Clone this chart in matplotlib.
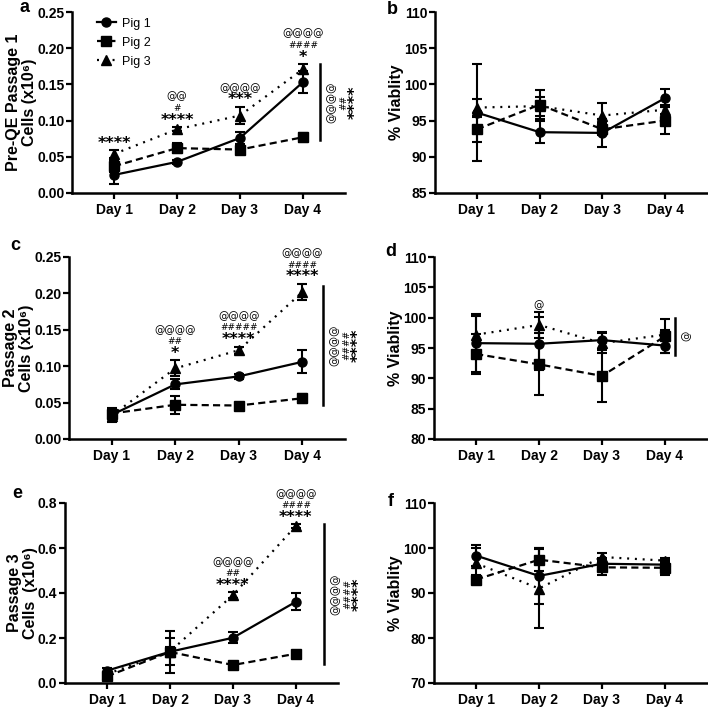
import numpy as np
import matplotlib.pyplot as plt

plt.rcParams['font.family'] = ['Liberation Sans', 'DejaVu Sans']

days = ["Day 1", "Day 2", "Day 3", "Day 4"]
pigs = ["Pig 1", "Pig 2", "Pig 3"]

# cell counts (x10^6), rows = Pig 1..3
cells_p1 = [[0.025, 0.043, 0.076, 0.153],
            [0.037, 0.062, 0.060, 0.077],
            [0.054, 0.088, 0.107, 0.171]]
cells_p1_err = [[0.0125, 0.003, 0.008, 0.015],
                [0.008, 0.007, 0.005, 0.006],
                [0.005, 0.003, 0.012, 0.007]]
cells_p2 = [[0.033, 0.075, 0.086, 0.106],
            [0.035, 0.047, 0.046, 0.056],
            [0.032, 0.097, 0.122, 0.202]]
cells_p2_err = [[0.010, 0.007, 0.003, 0.016],
                [0.005, 0.012, 0.002, 0.006],
                [0.004, 0.011, 0.005, 0.011]]
cells_p3 = [[0.055, 0.139, 0.201, 0.361],
            [0.030, 0.138, 0.080, 0.130],
            [0.040, 0.140, 0.391, 0.698]]
cells_p3_err = [[0.010, 0.093, 0.024, 0.038],
                [0.010, 0.060, 0.008, 0.006],
                [0.008, 0.020, 0.012, 0.008]]

# % viability
viab_p1 = [[96.1, 93.4, 93.3, 98.1],
           [93.8, 97.2, 93.8, 95.0],
           [96.8, 97.0, 95.7, 96.5]]
viab_p1_err = [[6.7, 1.5, 1.9, 1.2],
               [1.7, 2.0, 0.8, 1.9],
               [1.2, 1.3, 1.8, 0.6]]
viab_p2 = [[95.8, 95.7, 96.3, 95.4],
           [94.0, 92.3, 90.4, 96.9],
           [97.2, 98.8, 95.8, 97.2]]
viab_p2_err = [[4.8, 4.4, 1.4, 1.2],
               [3.3, 5.1, 4.3, 2.8],
               [3.0, 2.1, 1.6, 0.8]]
viab_p3 = [[98.3, 93.8, 96.5, 96.3],
           [93.0, 97.4, 95.7, 95.6],
           [96.6, 91.0, 98.0, 97.2]]
viab_p3_err = [[2.3, 6.2, 1.2, 1.0],
               [1.0, 2.5, 1.6, 1.5],
               [3.3, 8.8, 1.0, 0.5]]

# significance marks above each day (top line first)
notes_a = {1: ["****"], 2: ["@@", "#", "****"], 3: ["@@@@", "***"], 4: ["@@@@", "####", "*"]}
notes_c = {2: ["@@@@", "##", "*"], 3: ["@@@@", "#####", "****"], 4: ["@@@@", "####", "****"]}
notes_d = {2: ["@"]}
notes_e = {3: ["@@@@", "##", "****"], 4: ["@@@@", "####", "****"]}

# bracket at the right side: (low, high) and its marks
side_a = ((0.073, 0.178), ["@@@@", "##", "****"])
side_c = ((0.047, 0.210), ["@@@@", "####", "****"])
side_d = ((93.9, 100.0), ["@"])
side_e = ((0.084, 0.707), ["@@@@", "####", "****"])

markers = ["o", "s", "^"]
styles = ["-", (0, (3.2, 1.9)), (0, (0.9, 2.6))]

W, H = 708, 707


def rect(left, right, top, bottom):
    return [left / W, 1 - bottom / H, (right - left) / W, (bottom - top) / H]


def mark_font(s):
    if "*" in s:
        return dict(fontsize=11.5, family="DejaVu Sans", fontweight="bold")
    if "#" in s:
        return dict(fontsize=6.5, family="DejaVu Sans")
    return dict(fontsize=7.5, family="DejaVu Sans")


def draw_panel(ax, vals, errs, ylim, yticks, fmt, ylabel, notes=None, side=None, side_x=None, legend=False):
    x = np.arange(1, len(days) + 1)
    for i in range(len(pigs)):
        v = np.array(vals[i])
        e = np.array(errs[i])
        ax.errorbar(x, v, yerr=e, fmt="none", ecolor="k", elinewidth=1.5,
                    capsize=3.5, capthick=1.5, zorder=2 + i)
        ax.plot(x, v, color="k", linestyle=styles[i], linewidth=1.6, marker=markers[i],
                markersize=6.5 if i < 2 else 7, label=pigs[i], zorder=3 + i)

    ax.set_xlim(0.33, 4.67)
    ax.set_ylim(*ylim)
    ax.set_xticks(x)
    ax.set_xticklabels(days, fontsize=10, fontweight="bold")
    ax.set_yticks(yticks)
    ax.set_yticklabels([fmt % t for t in yticks], fontsize=10, fontweight="bold")
    ax.set_ylabel(ylabel, fontsize=11.5, fontweight="bold", labelpad=0, linespacing=1.1)
    for s in ["top", "right"]:
        ax.spines[s].set_visible(False)
    for s in ["left", "bottom"]:
        ax.spines[s].set_linewidth(1.8)
    ax.tick_params(width=1.6, length=4)
    ax.tick_params(axis="y", pad=1.5)
    ax.tick_params(axis="x", pad=3)

    if notes:
        tops = np.max(np.array(vals) + np.array(errs), axis=0)
        for day, lines in notes.items():
            for k, txt in enumerate(reversed(lines)):
                ax.annotate(txt, xy=(day, tops[day - 1]), xytext=(0, 5 + 8.5 * k),
                            textcoords="offset points", ha="center", va="center",
                            **mark_font(txt))
    if side:
        (lo, hi), lines = side
        ax.plot([side_x, side_x], [lo, hi], color="k", lw=1.8, clip_on=False)
        for k, txt in enumerate(lines):
            ax.annotate(txt, xy=(side_x, (lo + hi) / 2), xytext=(8.5 + 8.5 * k, 0),
                        textcoords="offset points", ha="center", va="center",
                        rotation=90, annotation_clip=False, **mark_font(txt))
    if legend:
        ax.legend(loc="upper left", bbox_to_anchor=(0.05, 1.03), frameon=False,
                  handlelength=1.5, fontsize=9, labelspacing=0.55, handletextpad=0.5)


fig = plt.figure(figsize=(W / 100, H / 100), dpi=100)

ax_a = fig.add_axes(rect(72, 345, 12, 193))
ax_b = fig.add_axes(rect(435, 707, 12, 193))
ax_c = fig.add_axes(rect(69, 345, 257, 439))
ax_d = fig.add_axes(rect(434, 707, 257, 439))
ax_e = fig.add_axes(rect(65, 338, 503, 683))
ax_f = fig.add_axes(rect(434, 707, 503, 683))

count_ticks = [0.0, 0.05, 0.10, 0.15, 0.20, 0.25]

draw_panel(ax_a, cells_p1, cells_p1_err, (0, 0.25), count_ticks, "%.2f",
           "Pre-QE Passage 1\nCells (x10\u2076)", notes_a, side_a, 4.27, legend=True)
draw_panel(ax_b, viab_p1, viab_p1_err, (85, 110), [85, 90, 95, 100, 105, 110], "%d",
           "% Viablity")
draw_panel(ax_c, cells_p2, cells_p2_err, (0, 0.25), count_ticks, "%.2f",
           "Passage 2\nCells (x10\u2076)", notes_c, side_c, 4.32)
draw_panel(ax_d, viab_p2, viab_p2_err, (80, 110), [80, 85, 90, 95, 100, 105, 110], "%d",
           "% Viablity", notes_d, side_d, 4.16)
draw_panel(ax_e, cells_p3, cells_p3_err, (0, 0.8), [0.0, 0.2, 0.4, 0.6, 0.8], "%.1f",
           "Passage 3\nCells  (x10\u2076)", notes_e, side_e, 4.45)
draw_panel(ax_f, viab_p3, viab_p3_err, (70, 110), [70, 80, 90, 100, 110], "%d",
           "% Viablity")

for letter, px, py in [("a", 24, 7), ("b", 392, 10), ("c", 15, 245),
                       ("d", 391, 252), ("e", 17, 493), ("f", 391, 502)]:
    fig.text(px / W, 1 - py / H, letter, fontsize=13, fontweight="bold",
             ha="center", va="center")

fig.savefig("out.png", dpi=100)
